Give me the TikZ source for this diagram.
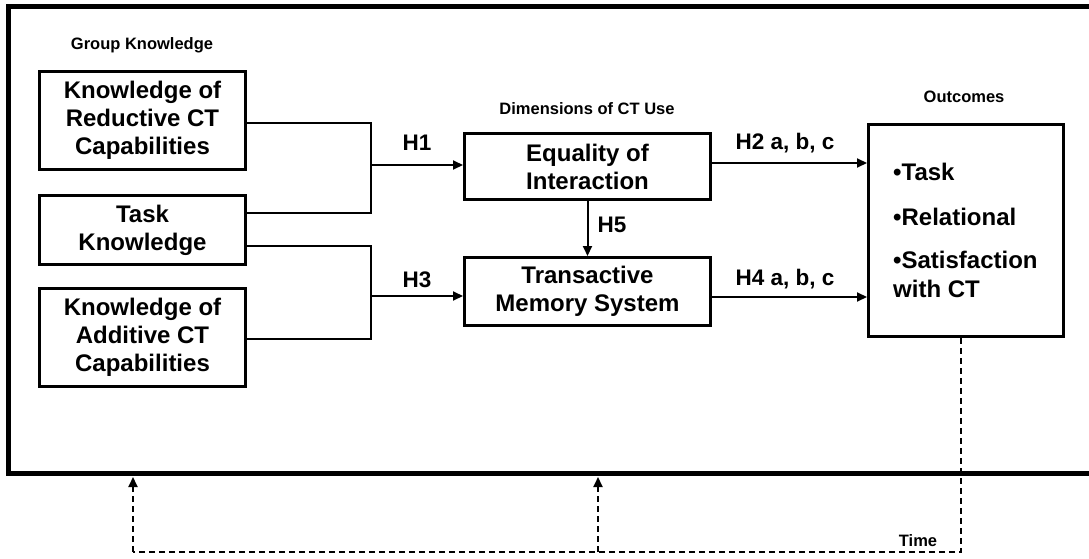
\documentclass[tikz,border=0pt]{standalone}
\usepackage{fontspec}
\setmainfont{Liberation Sans}
\usetikzlibrary{arrows.meta}

\tikzset{
  box/.style={draw, line width=3pt, align=center, inner sep=0pt,
    font=\bfseries\fontsize{24}{28}\selectfont},
  head/.style={font=\bfseries\fontsize{16.5}{19}\selectfont, inner sep=0pt},
  hlabel/.style={font=\bfseries\fontsize{22.5}{26}\selectfont, inner sep=0pt},
  item/.style={font=\bfseries\fontsize{24}{28}\selectfont, inner sep=0pt, anchor=base west},
  link/.style={line width=2pt},
  arr/.style={line width=2pt, -{Triangle[length=10pt,width=9pt]}},
  timeline/.style={line width=2pt, dash pattern=on 6pt off 4pt},
}

\begin{document}
\begin{tikzpicture}[x=1pt, y=-1pt, line join=miter]
\useasboundingbox (0,0) rectangle (1089,559);

% group frame, open on the right
\draw[line width=5pt] (1100,6.5) -- (8.5,6.5) -- (8.5,473.5) -- (1100,473.5);

% headings
\node[head] (gk) at (142,45) {Group Knowledge};
\node[head] (dim) at (587,109) {Dimensions of CT Use};
\node[head] (oc) at (964,97) {Outcomes};

% knowledge boxes
\node[box, minimum width=206pt, minimum height=98pt] (red) at (142.5,120.5)
  {Knowledge of\\Reductive CT\\Capabilities};
\node[box, minimum width=206pt, minimum height=69pt] (task) at (142.5,230)
  {Task\\Knowledge};
\node[box, minimum width=206pt, minimum height=98pt] (add) at (142.5,337.5)
  {Knowledge of\\Additive CT\\Capabilities};

% dimensions of CT use
\node[box, minimum width=246pt, minimum height=66pt] (eq) at (587.5,166.5)
  {Equality of\\Interaction};
\node[box, minimum width=246pt, minimum height=68pt] (tms) at (587.5,291.5)
  {Transactive\\Memory System};

% outcomes
\node[box, minimum width=195pt, minimum height=212pt] (out) at (966,230.5) {};
\node[item] (o1) at (893,180) {•Task};
\node[item] (o2) at (893,225) {•Relational};
\node[item] (o3) at (893,268) {•Satisfaction};
\node[item] (o4) at (893,297) {with CT};

% junctions of the input lines
\coordinate (j1) at (371,123);
\coordinate (j2) at (371,213);
\coordinate (m1) at (371,165);
\coordinate (j3) at (371,246);
\coordinate (j4) at (371,339);
\coordinate (m2) at (371,296);

\draw[link] (j1 -| red.east) -- (j1) -- (j2) -- (j2 -| task.east);
\draw[arr] (m1) -- (m1 -| eq.west);
\draw[link] (j3 -| task.east) -- (j3) -- (j4) -- (j4 -| add.east);
\draw[arr] (m2) -- (m2 -| tms.west);

\coordinate (r1) at (0,163);
\coordinate (r2) at (0,297);
\draw[arr] (r1 -| eq.east) -- (r1 -| out.west);
\draw[arr] (r2 -| tms.east) -- (r2 -| out.west);
\draw[arr] (eq.south) -- (tms.north);

% hypothesis labels
\node[hlabel] (h1) at (417,143) {H1};
\node[hlabel] (h3) at (417,280) {H3};
\node[hlabel] (h5) at (612,225) {H5};
\node[hlabel] (h2) at (785,143.5) {H2 a, b, c};
\node[hlabel] (h4) at (785,279.5) {H4 a, b, c};

% time feedback
\coordinate (t0) at (961,552);
\coordinate (tl) at (133,552);
\coordinate (tm) at (598,552);
\coordinate (fb) at (0,477);
\draw[timeline] (t0 |- out.south) -- (t0) -- (tl);
\draw[timeline, -{Triangle[length=10pt,width=9pt]}] (tl) -- (tl |- fb);
\draw[timeline, -{Triangle[length=10pt,width=9pt]}] (tm) -- (tm |- fb);
\node[head] (time) at (918,541) {Time};
\end{tikzpicture}
\end{document}
